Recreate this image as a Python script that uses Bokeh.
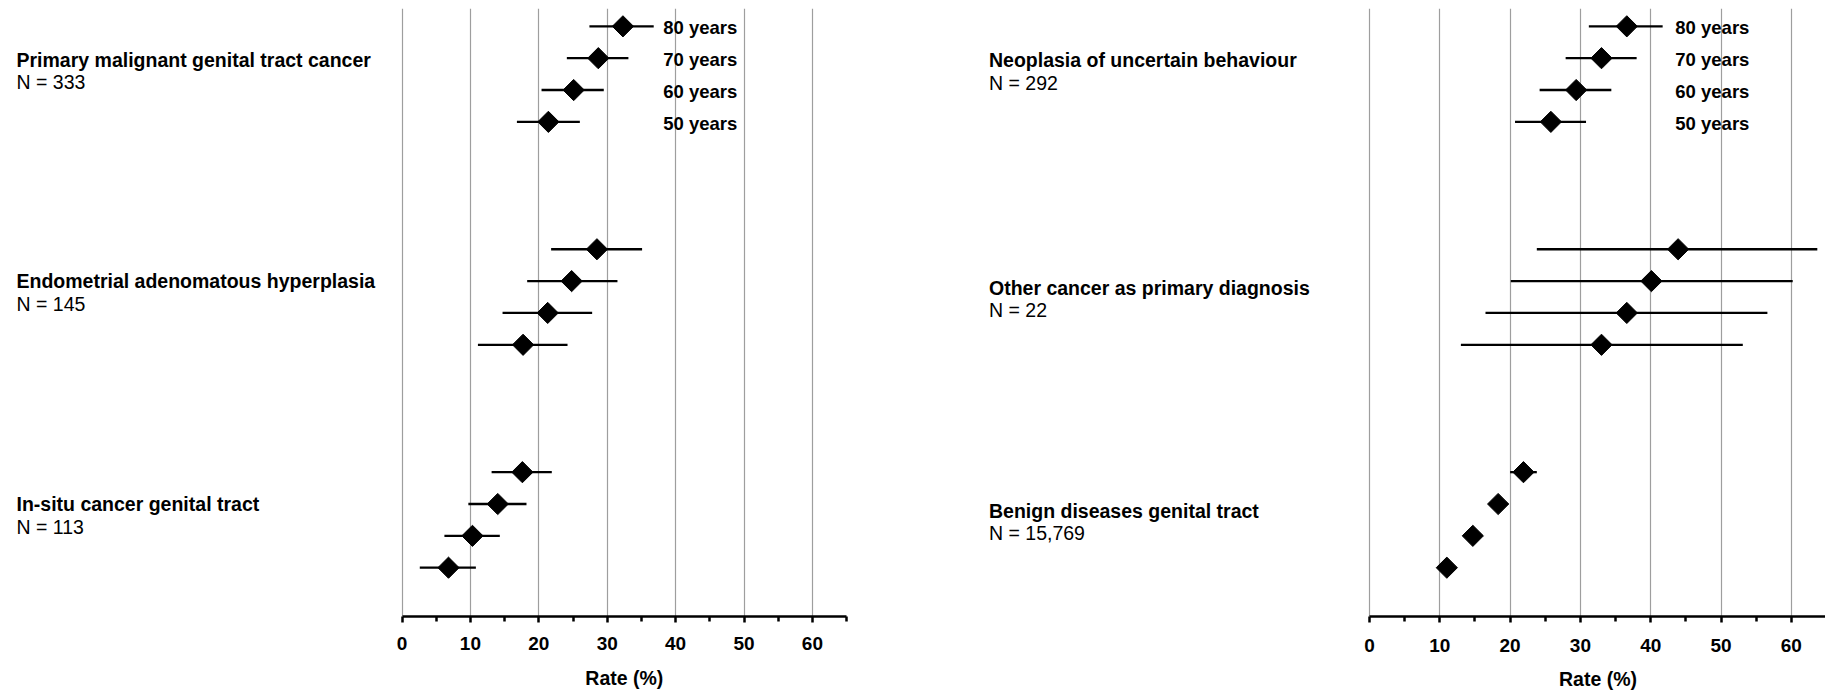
import math
from bokeh.plotting import figure
from bokeh.layouts import row
from bokeh.models import Range1d, FixedTicker, Title, ColumnDataSource
from bokeh.core.properties import value
from bokeh.embed import file_html
from bokeh.resources import INLINE

# ---------------- data ----------------
ages = ["80 years", "70 years", "60 years", "50 years"]

left_groups = ["Primary malignant genital tract cancer",
               "Endometrial adenomatous hyperplasia",
               "In-situ cancer genital tract"]
left_n = ["N = 333", "N = 145", "N = 113"]
left_rate = [[32.3, 28.7, 25.1, 21.4],
             [28.5, 24.8, 21.3, 17.7],
             [17.6, 14.0, 10.3, 6.8]]
left_lo = [[27.4, 24.1, 20.4, 16.8],
           [21.8, 18.3, 14.7, 11.1],
           [13.1, 9.7, 6.2, 2.6]]
left_hi = [[36.8, 33.1, 29.5, 26.0],
           [35.1, 31.5, 27.8, 24.2],
           [21.9, 18.2, 14.3, 10.8]]

right_groups = ["Neoplasia of uncertain behaviour",
                "Other cancer as primary diagnosis",
                "Benign diseases genital tract"]
right_n = ["N = 292", "N = 22", "N = 15,769"]
right_rate = [[36.6, 33.0, 29.4, 25.8],
              [43.9, 40.1, 36.6, 33.0],
              [21.9, 18.3, 14.7, 11.0]]
right_lo = [[31.2, 27.9, 24.2, 20.7],
            [23.8, 20.1, 16.5, 13.0],
            [20.0, 17.0, 13.5, 9.9]]
right_hi = [[41.7, 38.0, 34.4, 30.8],
            [63.7, 60.2, 56.6, 53.1],
            [23.8, 19.6, 15.9, 12.1]]

major_ticks = [0, 10, 20, 30, 40, 50, 60]
minor_ticks = [5, 15, 25, 35, 45, 55, 65]
axis_title = "Rate (%)"

FONT = value("Liberation Sans")


def make_panel(groups, ns, rate, lo, hi, fig_w, x0_px, px_per_unit, frame_h,
               label_px, years_x, label_offsets, border_bottom,
               tick_standoff, title_standoff, title_w=78):
    x_start = -x0_px / px_per_unit
    x_end = (fig_w - x0_px) / px_per_unit
    row_px = 31.95
    y_top = -0.56
    y_bot = y_top + frame_h / row_px
    p = figure(width=fig_w, height=8 + frame_h + border_bottom,
               x_range=Range1d(x_start, x_end), y_range=Range1d(y_bot, y_top),
               output_backend="svg", toolbar_location=None,
               y_axis_location=None, min_border_left=0, min_border_right=0,
               min_border_top=8, min_border_bottom=border_bottom,
               outline_line_color=None, background_fill_color="white",
               border_fill_color="white")
    # grid
    p.xgrid.ticker = FixedTicker(ticks=major_ticks)
    p.xgrid.grid_line_color = "#9e9e9e"
    p.xgrid.grid_line_width = 1.2
    p.ygrid.visible = False
    # axis
    ax = p.xaxis[0]
    ax.ticker = FixedTicker(ticks=major_ticks, minor_ticks=minor_ticks)
    ax.bounds = (0, 65)
    ax.axis_line_width = 2.5
    ax.axis_line_color = "black"
    ax.major_tick_in = 0
    ax.major_tick_out = 6
    ax.minor_tick_in = 0
    ax.minor_tick_out = 5
    ax.major_tick_line_width = 2.5
    ax.minor_tick_line_width = 2.5
    ax.major_tick_line_color = "black"
    ax.minor_tick_line_color = "black"
    ax.major_label_text_font = "Liberation Sans"
    ax.major_label_text_font_style = "bold"
    ax.major_label_text_font_size = "19px"
    ax.major_label_text_color = "black"
    ax.major_label_standoff = tick_standoff

    xs, ys, x0s, x1s = [], [], [], []
    for g in range(len(groups)):
        for i in range(len(ages)):
            r = 7 * g + i
            xs.append(rate[g][i])
            ys.append(r)
            x0s.append(lo[g][i])
            x1s.append(hi[g][i])
    src = ColumnDataSource(dict(x=xs, y=ys, x0=x0s, x1=x1s))
    p.segment(x0="x0", y0="y", x1="x1", y1="y", source=src,
              line_color="black", line_width=2.3)
    p.scatter(x="x", y="y", source=src, marker="square", angle=math.pi / 4,
              size=15, fill_color="black", line_color="black")

    # age labels
    ysrc = ColumnDataSource(dict(x=[years_x] * 4, y=[i + 0.05 for i in range(4)], t=ages))
    p.text(x="x", y="y", text="t", source=ysrc, text_font=FONT,
           text_font_style="bold", text_font_size="18.5px", text_color="black",
           text_baseline="alphabetic", text_align="left")

    # group labels
    lx = (label_px - x0_px) / px_per_unit
    gsrc = ColumnDataSource(dict(x=[lx] * 3,
                                 y=[7 * g + label_offsets[g] for g in range(3)],
                                 t=groups))
    p.text(x="x", y="y", text="t", source=gsrc, text_font=FONT,
           text_font_style="bold", text_font_size="19.5px", text_color="black",
           text_baseline="alphabetic", text_align="left")
    nsrc = ColumnDataSource(dict(x=[lx] * 3,
                                 y=[7 * g + label_offsets[g] + 0.7 for g in range(3)],
                                 t=ns))
    p.text(x="x", y="y", text="t", source=nsrc, text_font=FONT,
           text_font_style="normal", text_font_size="19.5px", text_color="black",
           text_baseline="alphabetic", text_align="left")

    # axis title centred under the 0-65 axis
    centre_px = x0_px + 32.5 * px_per_unit
    p.add_layout(Title(text=axis_title, align="left", offset=centre_px - title_w / 2,
                       text_font="Liberation Sans", text_font_style="bold",
                       text_font_size="19.5px", text_color="black",
                       standoff=title_standoff), "below")
    return p


left = make_panel(left_groups, left_n, left_rate, left_lo, left_hi,
                  fig_w=858, x0_px=401.5, px_per_unit=6.84, frame_h=610,
                  label_px=16, years_x=38.2, label_offsets=[1.06, 1.01, 1.01],
                  border_bottom=82, tick_standoff=14, title_standoff=24)
right = make_panel(right_groups, right_n, right_rate, right_lo, right_hi,
                   fig_w=967, x0_px=511, px_per_unit=7.03, frame_h=610,
                   label_px=130.5, years_x=43.5, label_offsets=[1.07, 1.21, 1.21],
                   border_bottom=82, tick_standoff=16, title_standoff=22)

layout = row(left, right, spacing=0)
open("out.html", "w").write(file_html(layout, INLINE))
